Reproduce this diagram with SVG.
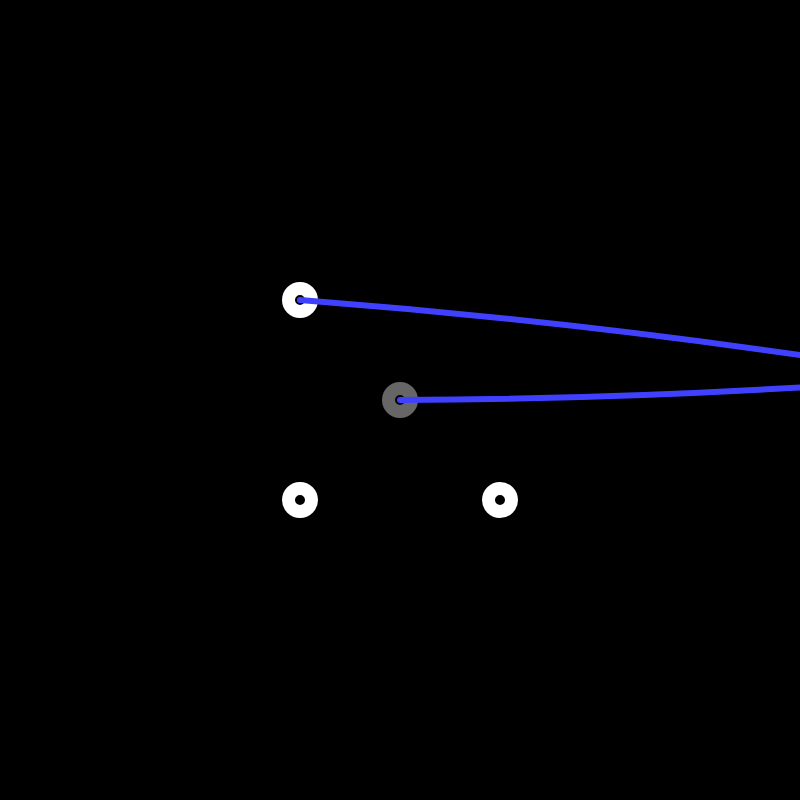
<svg xmlns="http://www.w3.org/2000/svg" width="800" height="800" viewBox="0 0 800 800">
<style>
.ring{fill:none;stroke-width:13}
.white{stroke:#ffffff}
.gray{stroke:#666666}
.edge{fill:none;stroke:#4040ff;stroke-width:6;stroke-linecap:round}
</style>
<rect width="800" height="800" fill="#000000"/>
<g id="node-a"><circle class="ring white" cx="300" cy="300" r="11.5"/></g>
<g id="node-b"><circle class="ring gray" cx="400" cy="400" r="11.5"/></g>
<g id="node-c"><circle class="ring white" cx="300" cy="500" r="11.5"/></g>
<g id="node-d"><circle class="ring white" cx="500" cy="500" r="11.5"/></g>
<g id="connectors">
<path class="edge" d="M300,300 Q575,321.1 850,362.4"/>
<path class="edge" d="M400,400 Q625,399.2 850,384.3"/>
</g>
</svg>
